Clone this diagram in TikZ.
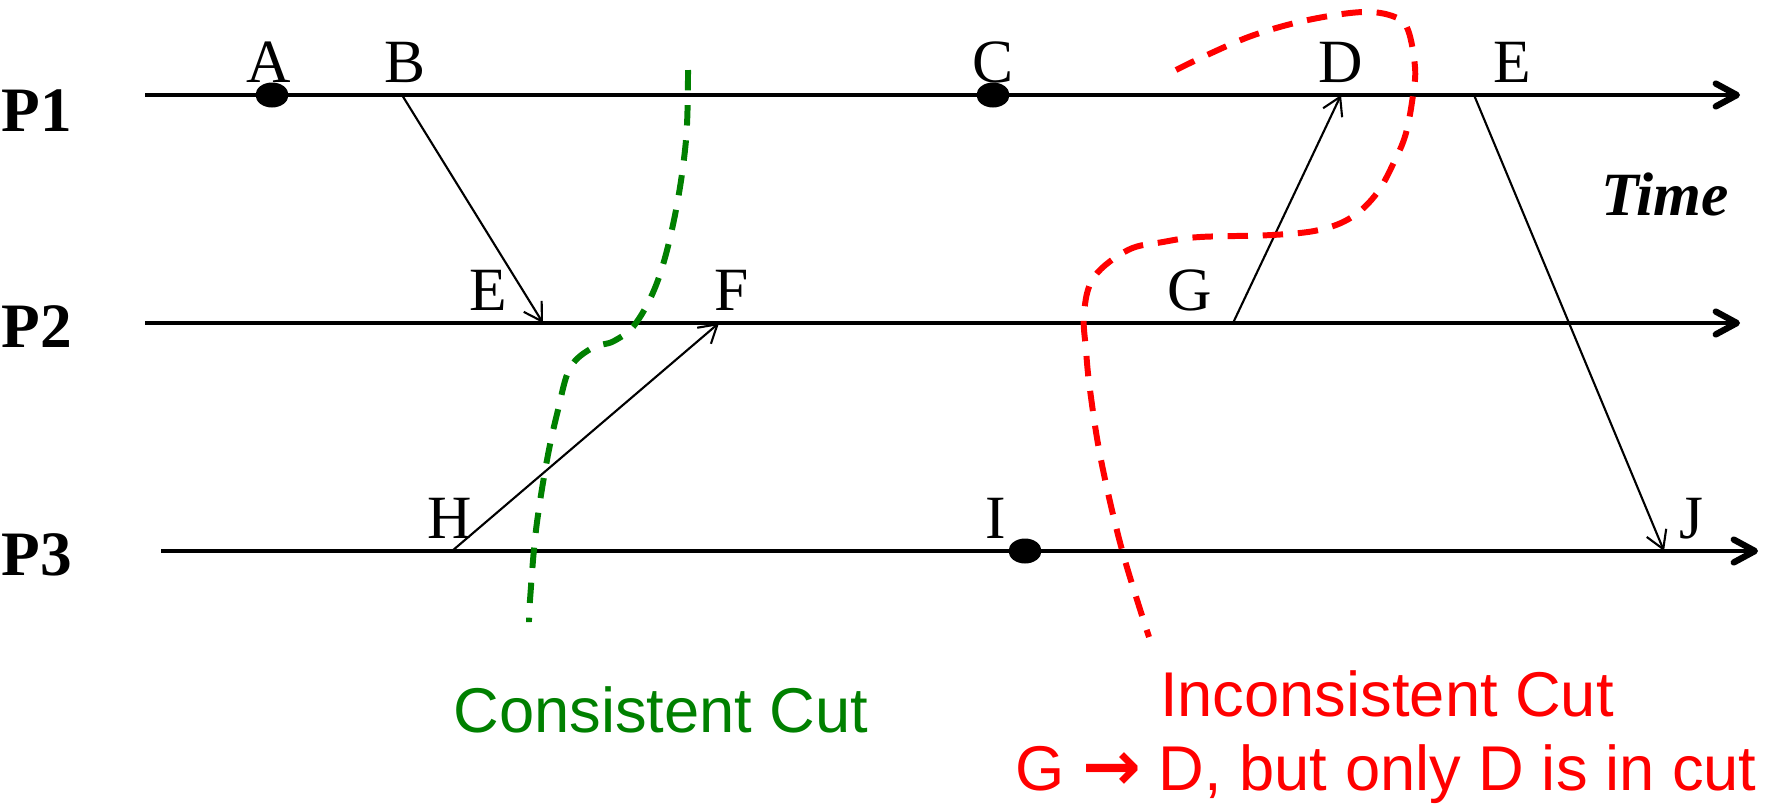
\documentclass[tikz,border=0pt]{standalone}
\usepackage{fontspec}
\setmainfont{Liberation Serif}
\newfontfamily\cutsans{Liberation Sans}
\newfontfamily\arrowfont{DejaVu Sans}
\usetikzlibrary{arrows.meta}
\definecolor{cutgreen}{RGB}{0,128,0}
\definecolor{cutred}{RGB}{255,0,0}

\begin{document}
\begin{tikzpicture}[
        proc/.style={line width=1.2pt, -{Straight Barb[length=6pt,width=6.5pt,line width=1.8pt,round]}},
        msg/.style={line width=0.6pt, -{Straight Barb[length=5pt,width=6pt]}},
        evt/.style={font=\fontsize{17.5}{20}\selectfont, anchor=base, inner sep=0pt},
        plabel/.style={font=\fontsize{18}{20}\selectfont\bfseries, anchor=base, inner sep=0pt},
        cutline/.style={line width=1.7pt, dash pattern=on 5.8pt off 4.2pt},
        cutnote/.style={font=\cutsans\fontsize{18}{22}\selectfont, anchor=base, inner sep=0pt}
    ]
                \useasboundingbox (0,0) rectangle (17.67,-8.08);

                % プロセス
                \node[plabel] (p1) at (0.37,-1.31) {P1};
                \node[plabel] (p2) at (0.37,-3.47) {P2};
                \node[plabel] (p3) at (0.37,-5.75) {P3};
                \coordinate (p1s) at (1.45,-0.95);
                \coordinate (p1e) at (17.40,-0.95);
                \coordinate (p2s) at (1.45,-3.23);
                \coordinate (p2e) at (17.40,-3.23);
                \coordinate (p3s) at (1.61,-5.51);
                \coordinate (p3e) at (17.58,-5.51);
                \draw[proc] (p1s) -- (p1e);
                \draw[proc] (p2s) -- (p2e);
                \draw[proc] (p3s) -- (p3e);
                \node[font=\fontsize{17.5}{20}\selectfont\bfseries\itshape, anchor=base, inner sep=0pt] (time) at (16.65,-2.15) {Time};

                % イベント
                \coordinate (A) at (2.72,-0.95);
                \coordinate (B) at (4.02,-0.95);
                \coordinate (C) at (9.93,-0.95);
                \coordinate (D) at (13.41,-0.95);
                \coordinate (E1) at (14.74,-0.95);
                \coordinate (E2) at (5.43,-3.23);
                \coordinate (F) at (7.19,-3.23);
                \coordinate (G) at (12.33,-3.23);
                \coordinate (H) at (4.52,-5.51);
                \coordinate (I) at (10.25,-5.51);
                \coordinate (J) at (16.64,-5.51);

                \fill (A) ellipse [x radius=0.165, y radius=0.125];
                \fill (C) ellipse [x radius=0.165, y radius=0.125];
                \fill (I) ellipse [x radius=0.165, y radius=0.125];

                \node[evt] (lblA) at (2.69,-0.82) {A};
                \node[evt] (lblB) at (4.05,-0.82) {B};
                \node[evt] (lblC) at (9.93,-0.82) {C};
                \node[evt] (lblD) at (13.41,-0.82) {D};
                \node[evt] (lblE1) at (15.12,-0.82) {E};
                \node[evt] (lblE2) at (4.88,-3.10) {E};
                \node[evt] (lblF) at (7.32,-3.10) {F};
                \node[evt] (lblG) at (11.90,-3.10) {G};
                \node[evt] (lblH) at (4.50,-5.38) {H};
                \node[evt] (lblI) at (9.96,-5.38) {I};
                \node[evt] (lblJ) at (16.91,-5.38) {J};

                % メッセージ
                \draw[msg] (B) -- (E2);
                \draw[msg] (H) -- (F);
                \draw[msg] (G) -- (D);
                \draw[msg] (E1) -- (J);

                % 一貫したカット
                \draw[cutline, cutgreen] plot[smooth, tension=0.6] coordinates {
                    (6.88,-0.70) (6.86,-1.40) (6.75,-2.15) (6.58,-2.80) (6.36,-3.23)
                    (6.14,-3.41) (5.92,-3.48) (5.70,-3.68) (5.58,-4.10) (5.47,-4.60)
                    (5.36,-5.30) (5.30,-6.00) (5.29,-6.22)};
                \node[cutnote, text=cutgreen] (cons) at (6.61,-7.32) {Consistent Cut};

                % 一貫しないカット
                \draw[cutline, cutred] plot[smooth, tension=0.6] coordinates {
                    (11.76,-0.70) (12.07,-0.55) (12.54,-0.35) (13.08,-0.20) (13.63,-0.12)
                    (13.95,-0.17) (14.08,-0.30) (14.15,-0.67) (14.13,-0.95) (14.06,-1.33)
                    (13.95,-1.60) (13.77,-1.93) (13.52,-2.17) (13.19,-2.30) (12.72,-2.35)
                    (12.00,-2.37) (11.63,-2.42) (11.28,-2.50) (10.94,-2.77) (10.84,-3.13)
                    (10.86,-3.50) (10.90,-3.90) (11.01,-4.60) (11.22,-5.50) (11.49,-6.37)};
                \node[cutnote, text=cutred] (incons) at (13.87,-7.16) {Inconsistent Cut};
                \node[cutnote, text=cutred] (incons2) at (13.86,-7.90) {G {\arrowfont\bfseries\fontsize{20}{22}\selectfont →} D, but only D is in cut};
\end{tikzpicture}
\end{document}
